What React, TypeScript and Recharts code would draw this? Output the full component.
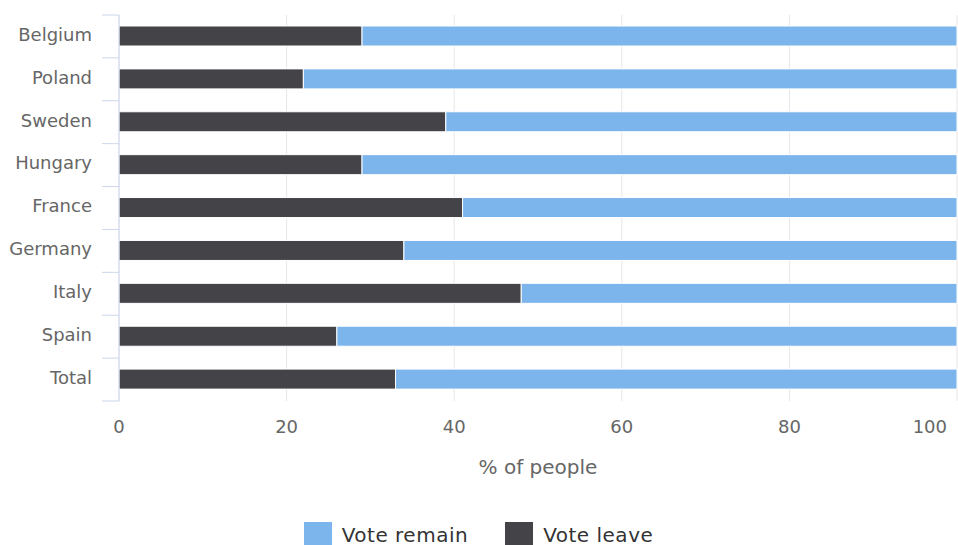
import { Bar, BarChart, CartesianGrid, Legend, XAxis, YAxis } from "recharts";

const countries = ["Belgium", "Poland", "Sweden", "Hungary", "France", "Germany", "Italy", "Spain", "Total"];
const voteLeave = [29, 22, 39, 29, 41, 34, 48, 26, 33];
const voteRemain = [71, 78, 61, 71, 59, 66, 52, 74, 67];
const xTicks = [0, 20, 40, 60, 80, 100];

const REMAIN_COLOR = "#7cb5ec";
const LEAVE_COLOR = "#434348";
const AXIS_COLOR = "#ccd6eb";

const WIDTH = 958;
const HEIGHT = 545;
const MARGIN = { top: 15, right: 1, left: 0, bottom: 0 };
const X_AXIS_HEIGHT = 114;
const LEGEND_HEIGHT = 30;
const PLOT_HEIGHT = HEIGHT - MARGIN.top - X_AXIS_HEIGHT - LEGEND_HEIGHT;

const data = countries.map((name, i) => ({
  name,
  leave: voteLeave[i],
  remain: voteRemain[i],
}));

// category label plus a tick line on the band boundary (highcharts style)
function CategoryTick(props: any) {
  const { x, y, payload, index } = props;
  const band = PLOT_HEIGHT / countries.length;
  const isLast = index === countries.length - 1;
  return (
    <g>
      <line x1={x + 10} x2={x + 27} y1={y - band / 2} y2={y - band / 2} stroke={AXIS_COLOR} />
      {isLast && (
        <line x1={x + 10} x2={x + 27} y1={y + band / 2} y2={y + band / 2} stroke={AXIS_COLOR} />
      )}
      <text x={x} y={y - 2} dy="0.35em" textAnchor="end" fill="#666666" fontSize={18}>
        {payload.value}
      </text>
    </g>
  );
}

// last label is kept inside the plot, like highcharts does
function ValueTick(props: any) {
  const { x, y, payload } = props;
  const isLast = payload.value === xTicks[xTicks.length - 1];
  return (
    <text x={isLast ? x + 1 : x} y={y} dy="0.71em" textAnchor={isLast ? "end" : "middle"} fill="#666666" fontSize={18}>
      {payload.value}
    </text>
  );
}

function LegendContent() {
  const items = [
    { label: "Vote remain", color: REMAIN_COLOR },
    { label: "Vote leave", color: LEAVE_COLOR },
  ];
  return (
    <div
      style={{
        height: LEGEND_HEIGHT,
        display: "flex",
        justifyContent: "center",
        alignItems: "flex-start",
        paddingTop: 7,
        boxSizing: "border-box",
        gap: 37,
      }}
    >
      {items.map((it) => (
        <div key={it.label} style={{ display: "flex", alignItems: "flex-start" }}>
          <span
            style={{ width: 28, height: 28, background: it.color, display: "inline-block", marginRight: 10 }}
          />
          <span style={{ fontSize: 20, color: "#333333", lineHeight: "26px", letterSpacing: 0.5 }}>{it.label}</span>
        </div>
      ))}
    </div>
  );
}

export default function App() {
  return (
    <div
      style={{
        position: "absolute",
        left: 0,
        top: 0,
        width: WIDTH,
        height: HEIGHT,
        overflow: "hidden",
        fontFamily: "'DejaVu Sans', sans-serif",
        background: "#ffffff",
      }}
    >
      <BarChart width={WIDTH} height={HEIGHT} data={data} layout="vertical" margin={MARGIN} barSize={20}>
        <CartesianGrid horizontal={false} stroke="#e6e6e6" />
        <XAxis
          type="number"
          domain={[0, 100]}
          ticks={xTicks}
          axisLine={false}
          tickLine={false}
          tickSize={0}
          tickMargin={19}
          height={X_AXIS_HEIGHT}
          tick={<ValueTick />}
          label={{ value: "% of people", position: "insideTop", offset: 59, fill: "#666666", fontSize: 20 }}
        />
        <YAxis
          type="category"
          dataKey="name"
          width={119}
          axisLine={{ stroke: AXIS_COLOR }}
          tickLine={false}
          tickSize={17}
          tickMargin={10}
          tick={<CategoryTick />}
          interval={0}
        />
        <Legend
          verticalAlign="bottom"
          height={LEGEND_HEIGHT}
          content={<LegendContent />}
        />
        <Bar dataKey="leave" name="Vote leave" stackId="a" fill={LEAVE_COLOR} stroke="#ffffff" strokeWidth={1} isAnimationActive={false} />
        <Bar dataKey="remain" name="Vote remain" stackId="a" fill={REMAIN_COLOR} stroke="#ffffff" strokeWidth={1} isAnimationActive={false} />
      </BarChart>
    </div>
  );
}
